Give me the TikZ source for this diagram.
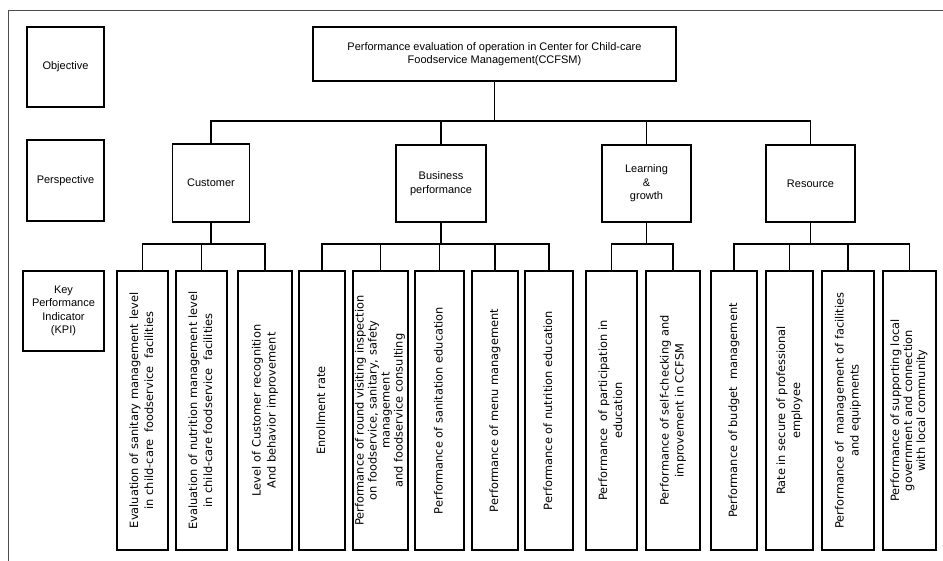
\documentclass[tikz,border=0pt]{standalone}
\usepackage{fontspec}
\setmainfont{Liberation Sans}
\newfontfamily\kpifont{DejaVu Sans}
\newcommand{\kpitext}[1]{\rotatebox{90}{\begin{tabular}{@{}c@{}}#1\end{tabular}}}

\begin{document}
\begin{tikzpicture}[x=1pt,y=-1pt,
  box/.style={draw,line width=1.6pt,align=center,inner sep=2pt,
    font=\fontsize{11}{13.5}\selectfont},
  kpi/.style={draw,line width=1.6pt,inner sep=0pt,minimum height=279pt,
    font=\kpifont\fontsize{11.4}{15}\selectfont},
  link/.style={line width=1.2pt}]
  \useasboundingbox (0,0) rectangle (943,561);

  % Frame
  \draw[gray!60!black,line width=0.9pt] (943,10.5) -- (8,10.5) -- (8,561);

  % Row labels
  \node[box,minimum width=77pt,minimum height=80pt] (objective) at (65.5,67) {Objective};
  \node[box,minimum width=77pt,minimum height=81pt] (perspective) at (65.5,180.5) {Perspective};
  \node[box,minimum width=81pt,minimum height=80pt] (kpilabel) at (63.5,311)
    {Key\\Performance\\Indicator\\(KPI)};

  % Objective
  \node[box,minimum width=363pt,minimum height=54pt] (top) at (494.5,54)
    {Performance evaluation of operation in Center for Child-care\\Foodservice Management(CCFSM)};

  % Perspectives
  \node[box,minimum width=77pt,minimum height=78pt] (cust) at (211,183) {Customer};
  \node[box,minimum width=90pt,minimum height=77pt] (bus) at (441,183.5) {Business\\performance};
  \node[box,minimum width=89pt,minimum height=77pt] (learn) at (646.5,183.5) {Learning\\\&\\growth};
  \node[box,minimum width=89pt,minimum height=77pt] (res) at (810.5,183.5) {Resource};

  \coordinate (bar1) at (495,121);
  \draw[link] (top.south) -- (top.south |- bar1);
  \draw[link] (cust.north) -- (cust.north |- bar1) -- (res.north |- bar1) -- (res.north);
  \foreach \p in {bus,learn}
    \draw[link] (\p.north) -- (\p.north |- bar1);

  % KPIs
  \node[kpi,minimum width=51pt] (k1) at (142.5,410.5)
    {\kpitext{Evaluation of sanitary management level\\in child-care~ foodservice~ facilities}};
  \node[kpi,minimum width=51pt] (k2) at (201.5,410.5)
    {\kpitext{Evaluation of nutrition management level\\in child-care foodservice~ facilities}};
  \node[kpi,minimum width=54pt] (k3) at (265,410.5)
    {\kpitext{Level of Customer recognition\\And behavior improvement}};
  \node[kpi,minimum width=46pt] (k4) at (322,410.5) {\kpitext{Enrollment rate}};
  \node[kpi,minimum width=55pt,font=\kpifont\fontsize{11.4}{13}\selectfont] (k5) at (380.5,410.5)
    {\kpitext{Performance of round visiting inspection\\on foodservice, sanitary, safety\\management\\and foodservice consulting}};
  \node[kpi,minimum width=49pt] (k6) at (439.5,410.5) {\kpitext{Performance of sanitation education}};
  \node[kpi,minimum width=46pt] (k7) at (495,410.5) {\kpitext{Performance of menu management}};
  \node[kpi,minimum width=48pt] (k8) at (549,410.5) {\kpitext{Performance of nutrition education}};
  \node[kpi,minimum width=51pt] (k9) at (611.5,410.5)
    {\kpitext{Performance~ of participation in\\education}};
  \node[kpi,minimum width=54pt] (k10) at (673,410.5)
    {\kpitext{Performance of self-checking and\\improvement in CCFSM}};
  \node[kpi,minimum width=46pt] (k11) at (734,410.5) {\kpitext{Performance of budget~ management}};
  \node[kpi,minimum width=47pt] (k12) at (789.5,410.5)
    {\kpitext{Rate in secure of professional\\employee}};
  \node[kpi,minimum width=52pt] (k13) at (848,410.5)
    {\kpitext{Performance of~ management of facilities\\and equipments}};
  \node[kpi,minimum width=53pt,font=\kpifont\fontsize{11.4}{13}\selectfont] (k14) at (909.5,410.5)
    {\kpitext{Performance of supporting local\\government and connection\\with local community}};

  \coordinate (bar2) at (0,244);
  % Customer
  \draw[link] (cust.south) -- (cust.south |- bar2);
  \draw[link] (k1.north) -- (k1.north |- bar2) -- (k3.north |- bar2) -- (k3.north);
  \draw[link] (k2.north) -- (k2.north |- bar2);
  % Business performance
  \draw[link] (bus.south) -- (bus.south |- bar2);
  \draw[link] (k4.north) -- (k4.north |- bar2) -- (k8.north |- bar2) -- (k8.north);
  \foreach \k in {k5,k6,k7}
    \draw[link] (\k.north) -- (\k.north |- bar2);
  % Learning & growth
  \draw[link] (learn.south) -- (learn.south |- bar2);
  \draw[link] (k9.north) -- (k9.north |- bar2) -- (k10.north |- bar2) -- (k10.north);
  % Resource
  \draw[link] (res.south) -- (res.south |- bar2);
  \draw[link] (k11.north) -- (k11.north |- bar2) -- (k14.north |- bar2) -- (k14.north);
  \foreach \k in {k12,k13}
    \draw[link] (\k.north) -- (\k.north |- bar2);
\end{tikzpicture}
\end{document}
